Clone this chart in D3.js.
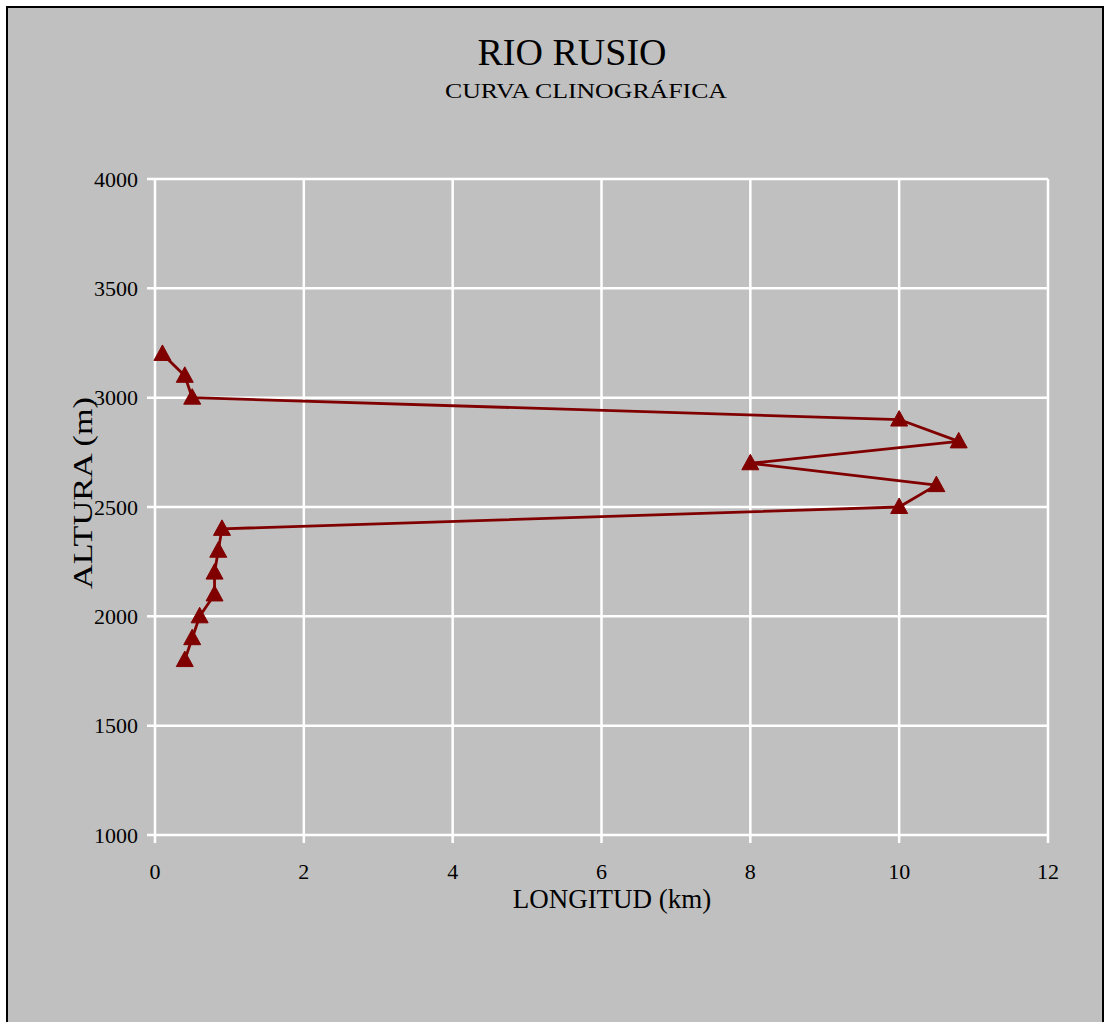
<!DOCTYPE html>
<html>
<head>
<meta charset="utf-8">
<script src="https://cdn.jsdelivr.net/npm/d3@7"></script>
<style>
  html, body { margin: 0; padding: 0; background: #ffffff; }
  svg { display: block; }
  text { font-family: "Liberation Serif", "DejaVu Serif", serif; fill: #000; }
</style>
</head>
<body>
<svg id="chart" width="1105" height="1022"></svg>
<script>
// Longitud acumulada (km) y altura (m) del perfil del río
const longitudKm = [0.1, 0.4, 0.5, 10, 10.8, 8, 10.5, 10, 0.9, 0.85, 0.8, 0.8, 0.6, 0.5, 0.4];
const alturaM    = [3200, 3100, 3000, 2900, 2800, 2700, 2600, 2500, 2400, 2300, 2200, 2100, 2000, 1900, 1800];
const xTicks = [0, 2, 4, 6, 8, 10, 12];
const yTicks = [1000, 1500, 2000, 2500, 3000, 3500, 4000];

const titulo = "RIO RUSIO";
const subtitulo = "CURVA CLINOGRÁFICA";
const tituloX = "LONGITUD (km)";
const tituloY = "ALTURA (m)";

const svg = d3.select("#chart");

// Chart area frame
svg.append("rect")
  .attr("x", 7).attr("y", 7)
  .attr("width", 1096).attr("height", 1030)
  .attr("fill", "#c0c0c0")
  .attr("stroke", "#000").attr("stroke-width", 2);

const plot = { left: 155, right: 1048, top: 179, bottom: 835 };

const x = d3.scaleLinear().domain([0, 12]).range([plot.left, plot.right]);
const y = d3.scaleLinear().domain([1000, 4000]).range([plot.bottom, plot.top]);

// Gridlines (white), extending a little beyond the axes as tick marks
const grid = svg.append("g").attr("stroke", "#fff").attr("stroke-width", 2.5);
grid.selectAll("line.v").data(xTicks).join("line")
  .attr("x1", d => x(d)).attr("x2", d => x(d))
  .attr("y1", plot.top).attr("y2", plot.bottom + 8);
grid.selectAll("line.h").data(yTicks).join("line")
  .attr("y1", d => y(d)).attr("y2", d => y(d))
  .attr("x1", plot.left - 8).attr("x2", plot.right);

// Tick labels
svg.append("g").selectAll("text").data(xTicks).join("text")
  .attr("x", d => x(d)).attr("y", 879)
  .attr("text-anchor", "middle")
  .attr("font-size", 22)
  .text(d => d);

svg.append("g").selectAll("text").data(yTicks).join("text")
  .attr("x", 138).attr("y", d => y(d) + 7.5)
  .attr("text-anchor", "end")
  .attr("font-size", 22)
  .text(d => d);

// Axis titles
svg.append("text")
  .attr("x", 612).attr("y", 908)
  .attr("text-anchor", "middle")
  .attr("font-size", 27)
  .text(tituloX);

svg.append("text")
  .attr("transform", "translate(92,493) rotate(-90)")
  .attr("text-anchor", "middle")
  .attr("font-size", 28)
  .attr("textLength", 192)
  .attr("lengthAdjust", "spacingAndGlyphs")
  .text(tituloY);

// Titles
svg.append("text")
  .attr("x", 572).attr("y", 65)
  .attr("text-anchor", "middle")
  .attr("font-size", 38)
  .text(titulo);

svg.append("text")
  .attr("x", 586).attr("y", 98)
  .attr("text-anchor", "middle")
  .attr("font-size", 22)
  .attr("textLength", 282)
  .attr("lengthAdjust", "spacingAndGlyphs")
  .text(subtitulo);

// Series line
const pts = longitudKm.map((d, i) => [d, alturaM[i]]);
const line = d3.line().x(d => x(d[0])).y(d => y(d[1]));
svg.append("path")
  .datum(pts)
  .attr("d", line)
  .attr("fill", "none")
  .attr("stroke", "#800000")
  .attr("stroke-width", 2.8)
  .attr("stroke-linejoin", "round");

// Triangle markers
const tri = "M0,-9 L8.5,6.5 L-8.5,6.5 Z";
svg.append("g").selectAll("path").data(pts).join("path")
  .attr("transform", d => `translate(${x(d[0])},${y(d[1])})`)
  .attr("d", tri)
  .attr("fill", "#800000")
  .attr("stroke", "#800000")
  .attr("stroke-width", 1);
</script>
</body>
</html>
